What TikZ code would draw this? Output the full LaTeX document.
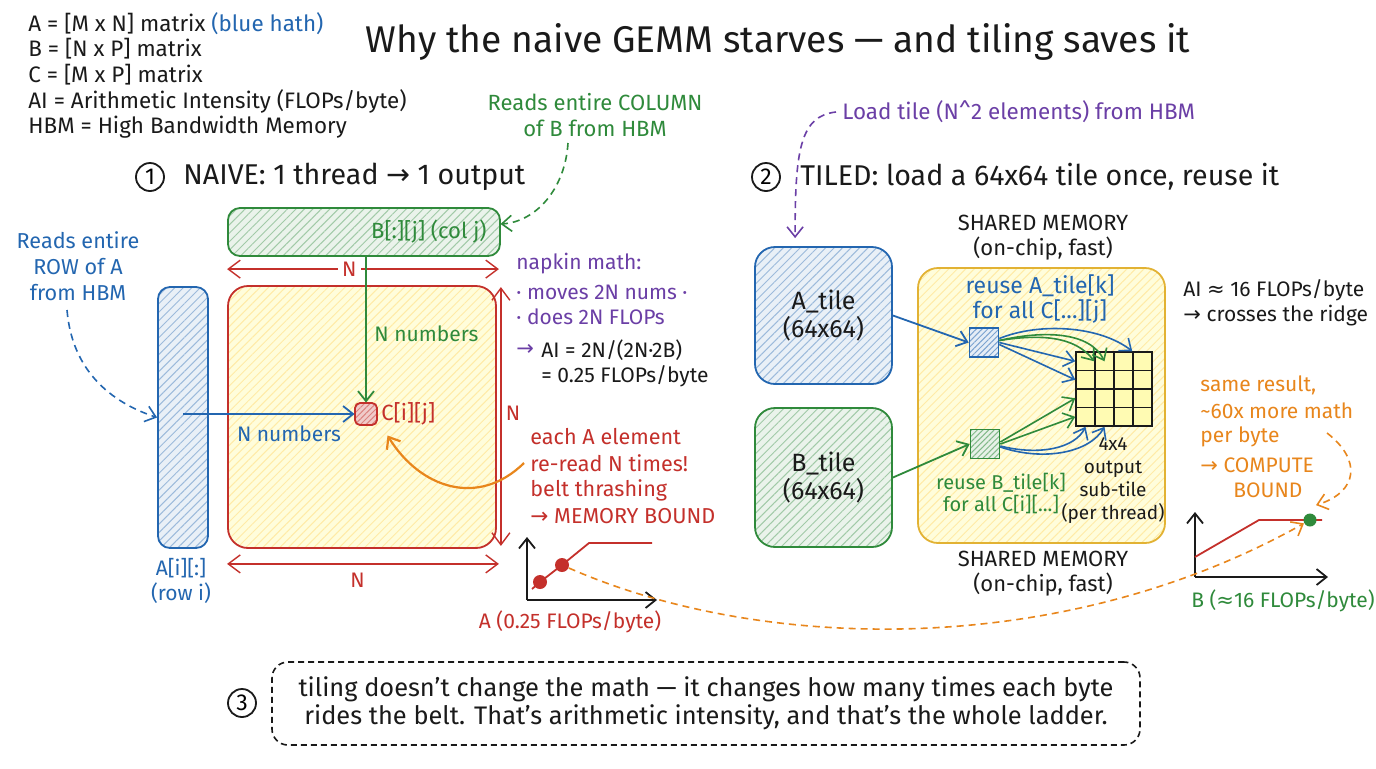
\documentclass[tikz,border=0pt]{standalone}
\usepackage{fontspec}
\setmainfont{Fira Sans}
\newfontfamily\symf{DejaVu Sans}
\usetikzlibrary{arrows.meta,patterns.meta,calc}
\definecolor{cblue}{HTML}{2366B0}
\definecolor{cgreen}{HTML}{2F8A3B}
\definecolor{cred}{HTML}{C4302B}
\definecolor{corange}{HTML}{E8861C}
\definecolor{cpurple}{HTML}{6B3FA6}
\definecolor{cgold}{HTML}{E2B233}
\definecolor{ink}{HTML}{1A1A1A}
\newcommand{\fsz}[2]{\fontsize{#1}{#2}\selectfont}
\newcommand{\rarr}{{\symf →}}
\newcommand{\apx}{{\symf ≈}}
\tikzset{
  hatch/.style n args={3}{preaction={fill=#1}, pattern={Lines[angle=45,distance=#3,line width=0.5pt]}, pattern color=#2},
  lbl/.style={inner sep=0pt, text=ink, font=\fsz{10}{13}, align=center},
  leg/.style={inner sep=0pt, text=ink, font=\fsz{11.2}{13}, anchor=west},
  hdr/.style={inner sep=0pt, text=ink, font=\fsz{14.3}{16}, anchor=west},
  circ/.style={circle, draw=ink, line width=0.9pt, minimum size=14pt, inner sep=0pt, font=\fsz{11.5}{13}},
  arr/.style={line width=0.9pt, -{Straight Barb[length=5pt,width=8pt]}},
  darr/.style={line width=0.8pt, dash pattern=on 3.5pt off 2.5pt, -{Straight Barb[length=5pt,width=8pt]}},
  dim/.style={line width=0.7pt, cred, {Straight Barb[length=6pt,width=9pt]}-{Straight Barb[length=6pt,width=9pt]}},
  cell/.style={draw=ink, line width=0.75pt, fill=yellow!30, minimum width=9.5pt, minimum height=9.25pt, inner sep=0pt},
  dot/.style={circle, inner sep=0pt, minimum size=7pt},
}
\begin{document}
\begin{tikzpicture}[x=0.5pt,y=-0.5pt]
\useasboundingbox (0,0) rectangle (1376,768);
\fill[white] (0,0) rectangle (1376,768);

% legend
\node[leg] (l1) at (28,24) {A = [M x N] matrix \textcolor{cblue}{(blue hath)}};
\node[leg] (l2) at (28,49) {B = [N x P] matrix};
\node[leg] (l3) at (28,75) {C = [M x P] matrix};
\node[leg] (l4) at (28,101) {AI = Arithmetic Intensity (FLOPs/byte)};
\node[leg] (l5) at (28,127) {HBM = High Bandwidth Memory};

% title
\node[inner sep=0pt, text=ink, font=\fsz{18.6}{22}] (title) at (778,42) {Why the naive GEMM starves — and tiling saves it};

% headers
\node[circ] (h1c) at (150,177) {1};
\node[hdr] (h1) at (183,177) {NAIVE: 1 thread \rarr\ 1 output};
\node[circ] (h2c) at (766,177) {2};
\node[hdr] (h2) at (800,177) {TILED: load a 64x64 tile once, reuse it};

% ---------- naive section ----------
\node[draw=cgreen, line width=0.9pt, rounded corners=6pt, hatch={cgreen!10}{cgreen!45}{3pt},
      minimum width=136pt, minimum height=24pt, inner sep=0pt] (Bbox) at (364,232) {};
\node[lbl, text=cgreen, font=\fsz{11}{13}, anchor=east] (Blbl) at (487,232) {B[:][j] (col j)};

\node[draw=cred, line width=0.9pt, rounded corners=10pt, hatch={yellow!14}{yellow!55!orange!35}{3pt},
      minimum width=134pt, minimum height=131pt, inner sep=0pt] (Cbox) at (362,417) {};

\node[draw=cblue, line width=0.9pt, rounded corners=6pt, hatch={cblue!10}{cblue!45}{3pt},
      minimum width=25pt, minimum height=130.5pt, inner sep=0pt] (Abox) at (183,417.5) {};
\node[lbl, text=cblue, font=\fsz{10.5}{12.5}] (Albl) at (181,581) {A[i][:]\\(row i)};

\node[draw=cred, line width=0.9pt, rounded corners=2.5pt, hatch={cred!25}{cred!60}{2pt},
      minimum size=11pt, inner sep=0pt] (csm) at (366,414) {};
\node[lbl, text=cred, font=\fsz{11}{13}, anchor=west] (clbl) at (381,414) {C[i][j]};

% dimension arrows
\draw[dim] ([yshift=8pt]Cbox.north west) -- ([yshift=8pt,xshift=1pt]Cbox.north east)
   node[pos=0.45, fill=white, inner sep=2pt, text=cred, font=\fsz{10.5}{12}] (nt) {N};
\draw[dim] ([yshift=-7.5pt]Cbox.south west) -- ([yshift=-7.5pt,xshift=1pt]Cbox.south east)
   node[pos=0.48, below=4pt, inner sep=0pt, text=cred, font=\fsz{10.5}{12}] (nb) {N};
\draw[dim] ([xshift=2pt,yshift=-1pt]Cbox.north east) -- ([xshift=2pt,yshift=1.5pt]Cbox.south east);
\node[inner sep=0pt, text=cred, font=\fsz{10.5}{12}] (nr) at (513,413) {N};

% flows into C
\draw[arr, cgreen] (csm |- Bbox.south) -- (csm.north);
\node[lbl, text=cgreen, font=\fsz{10.5}{13}, anchor=west] (gnum) at (374,334) {N numbers};
\draw[arr, cblue] (Abox.center |- csm) -- (csm.west);
\node[lbl, text=cblue, font=\fsz{10.5}{13}] (bnum) at (289,434) {N numbers};

% annotations
\node[lbl, text=cblue, font=\fsz{10.8}{13}] (rowtxt) at (78,266) {Reads entire\\ROW of A\\from HBM};
\draw[darr, cblue] (67,310) .. controls (72,370) and (110,402) .. (Abox.west);
\node[lbl, text=cgreen, font=\fsz{11}{13}] (coltxt) at (595,115) {Reads entire COLUMN\\of B from HBM};
\draw[darr, cgreen] (568,143) .. controls (565,190) and (535,222) .. ([yshift=4pt]Bbox.east);

% napkin math
\node[lbl, text=cpurple, font=\fsz{10.5}{13}, anchor=west] (nm1) at (516,264) {napkin math:};
\node[lbl, text=cpurple, font=\fsz{10.5}{13}, anchor=west] (nm2) at (516,292) {· moves 2N nums ·};
\node[lbl, text=cpurple, font=\fsz{10.5}{13}, anchor=west] (nm3) at (516,317) {· does 2N FLOPs};
\node[lbl, text=cpurple, font=\fsz{10.5}{13}, anchor=west] (nm4) at (516,350) {\rarr};
\node[lbl, font=\fsz{10.5}{13}, anchor=west] (nm5) at (541,350) {AI = 2N/(2N·2B)};
\node[lbl, font=\fsz{10.5}{13}, anchor=west] (nm6) at (541,376) {= 0.25 FLOPs/byte};

% memory bound note
\node[lbl, text=cred, font=\fsz{10.8}{13}, anchor=west] (mb1) at (530,437) {each A element};
\node[lbl, text=cred, font=\fsz{10.8}{13}, anchor=west] (mb2) at (530,463) {re-read N times!};
\node[lbl, text=cred, font=\fsz{10.8}{13}, anchor=west] (mb3) at (530,490) {belt thrashing};
\node[lbl, text=cred, font=\fsz{10.8}{13}, anchor=west] (mb4) at (530,516) {\rarr\ MEMORY BOUND};
\draw[arr, corange, line width=1.1pt] ([xshift=-3pt]mb2.west) .. controls (478,508) and (420,488) .. ([xshift=5pt,yshift=-5pt]csm.south east);

% roofline chart A
\coordinate (o1) at (527,600);
\draw[arr, ink, line width=0.9pt] (o1) -- (527,537);
\draw[arr, ink, line width=0.9pt] (o1) -- (657,600);
\node[dot, fill=cred] (da1) at (540,582) {};
\node[dot, fill=cred] (da2) at (562,565) {};
\draw[cred, line width=0.9pt] (532,589) -- (da1.center) -- (da2.center) -- (589,543) -- (652,543);
\node[lbl, text=cred, font=\fsz{10.5}{12}] (alab) at (570,622) {A (0.25 FLOPs/byte)};

% ---------- tiled section ----------
\node[lbl, text=cpurple, font=\fsz{11.2}{13}, anchor=west] (loadtxt) at (842,112) {Load tile (N\textasciicircum 2 elements) from HBM};
\node[draw=cblue, line width=0.9pt, rounded corners=10pt, hatch={cblue!10}{cblue!45}{3pt},
      minimum width=68.5pt, minimum height=68.5pt, inner sep=0pt, font=\fsz{12.5}{14}, align=center, text=ink] (Atile) at (823.5,315.5) {A\_tile\\(64x64)};
\node[draw=cgreen, line width=0.9pt, rounded corners=10pt, hatch={cgreen!10}{cgreen!45}{3pt},
      minimum width=68.5pt, minimum height=69.5pt, inner sep=0pt, font=\fsz{12.5}{14}, align=center, text=ink] (Btile) at (823.5,477.5) {B\_tile\\(64x64)};
\draw[darr, cpurple] ([xshift=-3pt]loadtxt.west) .. controls (800,116) and (795,150) .. ([xshift=20.5pt,yshift=4pt]Atile.north west);

\node[draw=cgold, line width=0.9pt, rounded corners=10pt, hatch={yellow!14}{yellow!55!orange!35}{3pt},
      minimum width=123.5pt, minimum height=137.5pt, inner sep=0pt] (shm) at (1041.5,405.5) {};
\node[lbl, font=\fsz{11}{12.5}] (shmt) at (1043,238) {SHARED MEMORY\\(on-chip, fast)};
\node[lbl, font=\fsz{11}{12.5}] (shmb) at (1043,574) {SHARED MEMORY\\(on-chip, fast)};

\node[lbl, text=cblue, font=\fsz{11.5}{12.5}] (ra) at (1040,299) {reuse A\_tile[k]\\for all C[...][j]};
\node[lbl, text=cgreen, font=\fsz{10}{11}] (rb) at (1001,493) {reuse B\_tile[k]\\for all C[i][...]};
\node[lbl, font=\fsz{9.5}{11.5}] (sub) at (1113,481) {4x4\\output\\sub-tile\\(per thread)};

\node[draw=cblue, line width=0.8pt, hatch={cblue!12}{cblue!60}{2pt}, minimum size=14.5pt, inner sep=0pt] (asq) at (984,342.5) {};
\node[draw=cgreen, line width=0.8pt, hatch={cgreen!12}{cgreen!60}{2pt}, minimum size=14.5pt, inner sep=0pt] (bsq) at (985,444) {};

\foreach \r in {1,...,4} {
  \foreach \c in {1,...,4} {
    \node[cell] (g\r\c) at ({1076+19*(\c-0.5)}, {352+18.5*(\r-0.5)}) {};
  }
}

\draw[arr, cblue] (Atile.east) -- (asq.west);
\draw[arr, cgreen] (Btile.east) -- (bsq.west);

% from A sub-square
\draw[arr, cblue, line width=0.8pt] ([yshift=2pt]asq.east) .. controls (1040,322) and (1100,326) .. (g14.north west);
\draw[arr, cgreen, line width=0.8pt] ([yshift=1pt]asq.east) .. controls (1040,334) and (1075,336) .. (g12.west);
\draw[arr, cgreen, line width=0.8pt] ([yshift=1pt]asq.east) .. controls (1045,330) and (1090,332) .. (g12.center);
\draw[arr, cblue, line width=0.8pt] (asq.east) -- (g11.west);
\draw[arr, cblue, line width=0.8pt] ([yshift=-1pt]asq.east) -- (g21.west);

% from B sub-square
\draw[arr, cgreen, line width=0.8pt] ([yshift=1pt]bsq.east) -- (g31.west);
\draw[arr, cgreen, line width=0.8pt] (bsq.east) -- (g41.west);
\draw[arr, cblue, line width=0.8pt] ([yshift=-1pt]bsq.east) .. controls (1040,456) and (1075,448) .. (g41.south);
\draw[arr, cblue, line width=0.8pt] ([yshift=-1.5pt]bsq.east) .. controls (1045,462) and (1090,452) .. (g42.south);

% AI note
\node[lbl, font=\fsz{10.5}{13}, anchor=west] (ai1) at (1183,290) {AI \apx\ 16 FLOPs/byte};
\node[lbl, font=\fsz{10.5}{13}, anchor=west] (ai2) at (1183,316) {\rarr\ crosses the ridge};

% compute bound note
\node[lbl, text=corange, font=\fsz{10.5}{13}, anchor=west] (cb1) at (1200,385) {same result,};
\node[lbl, text=corange, font=\fsz{10.5}{13}, anchor=west] (cb2) at (1200,411) {\textasciitilde 60x more math};
\node[lbl, text=corange, font=\fsz{10.5}{13}, anchor=west] (cb3) at (1200,437) {per byte};
\node[lbl, text=corange, font=\fsz{10.5}{13}, anchor=west] (cb4) at (1200,465) {\rarr\ COMPUTE};
\node[lbl, text=corange, font=\fsz{10.5}{13}, anchor=west] (cb5) at (1233,490) {BOUND};

% roofline chart B
\coordinate (o2) at (1195,577);
\draw[arr, ink, line width=0.9pt] (o2) -- (1195,512);
\draw[arr, ink, line width=0.9pt] (o2) -- (1328,577);
\draw[cred, line width=0.9pt] (1195,557) -- (1259,520) -- (1322,520);
\node[dot, fill=cgreen, minimum size=6.5pt] (bdot) at (1310,520) {};
\node[lbl, text=cgreen, font=\fsz{10.5}{12}] (blab) at (1283,601) {B (\apx16 FLOPs/byte)};
\draw[darr, corange] (1327,433) .. controls (1362,460) and (1358,492) .. ([xshift=3pt,yshift=4pt]bdot.north);

% long comparison arrow
\draw[darr, corange] (da2) .. controls (760,652) and (1060,660) .. (bdot);

% bottom summary
\node[circ] (h3c) at (242,703) {3};
\node[draw=ink, line width=0.8pt, dash pattern=on 3pt off 2pt, rounded corners=8pt,
      minimum width=434pt, minimum height=41.5pt, inner sep=0pt, align=center, text=ink,
      font=\fsz{12.7}{14}] (sum) at (706,703.5)
  {tiling doesn't change the math — it changes how many times each byte\\rides the belt. That's arithmetic intensity, and that's the whole ladder.};
\end{tikzpicture}
\end{document}
